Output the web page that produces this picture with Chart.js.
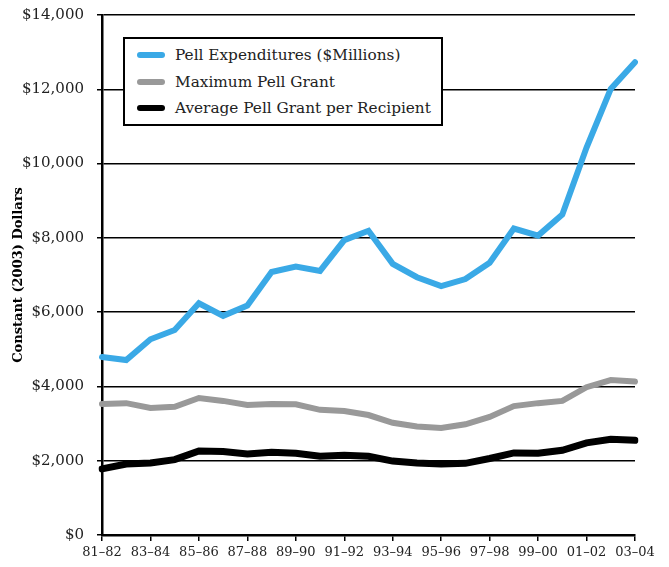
<!DOCTYPE html>
<html>
<head>
<meta charset="utf-8">
<title>Pell Grants</title>
<script src="https://cdn.jsdelivr.net/npm/chart.js@4.4.1/dist/chart.umd.min.js"></script>
<style>
    body { margin: 0; background: #fff; }
    #wrap { position: relative; width: 669px; height: 567px; }
    #pellLegend {
        position: absolute; left: 123px; top: 37px; width: 316px; height: 82px;
        border: 2px solid #000; background: #fff; padding-top: 3px;
        font-family: "DejaVu Serif", serif; font-size: 15.3px; color: #222;
    }
    .row { height: 26.5px; display: flex; align-items: center; }
    .swatch { width: 28px; height: 6px; border-radius: 3px; margin-left: 12px; margin-right: 10px; }
</style>
</head>
<body>
<div id="wrap">
    <canvas id="pellChart" width="669" height="567"></canvas>
    <div id="pellLegend"></div>
</div>
<script>
/**
 * Data
 **/
let years = ["81–82", "82–83", "83–84", "84–85", "85–86", "86–87", "87–88", "88–89", "89–90", "90–91",
    "91–92", "92–93", "93–94", "94–95", "95–96", "96–97", "97–98", "98–99", "99–00", "00–01",
    "01–02", "02–03", "03–04"];

let pellExpenditures = [4790, 4710, 5270, 5520, 6240, 5900, 6180, 7080, 7230, 7110,
    7940, 8190, 7300, 6940, 6700, 6890, 7330, 8250, 8060, 8630, 10430, 12010, 12730];

let maxPellGrant = [3530, 3550, 3420, 3450, 3690, 3610, 3500, 3530, 3520, 3370,
    3340, 3230, 3020, 2920, 2880, 2980, 3180, 3470, 3550, 3610, 3980, 4170, 4130];

let avgPellGrant = [1780, 1910, 1940, 2030, 2260, 2250, 2180, 2230, 2200, 2120,
    2150, 2120, 1990, 1940, 1910, 1930, 2060, 2210, 2200, 2280, 2480, 2580, 2550];

let seriesNames = ["Pell Expenditures ($Millions)", "Maximum Pell Grant", "Average Pell Grant per Recipient"];
let seriesColors = ["#3aa9e6", "#999999", "#000000"];

let yTicks = [0, 2000, 4000, 6000, 8000, 10000, 12000, 14000];

/**
 * Legend
 **/
let legendBox = document.getElementById("pellLegend");
for (let i = 0; i < seriesNames.length; i++) {
    let row = "<div class='row'><span class='swatch' style='background:" + seriesColors[i] + "'></span>" + seriesNames[i] + "</div>";
    legendBox.innerHTML += row;
}

/**
 * Chart
 **/
let seriesData = [pellExpenditures, maxPellGrant, avgPellGrant];
let datasets = [];
for (let i = 0; i < seriesData.length; i++) {
    datasets.push({
        label: seriesNames[i],
        data: seriesData[i],
        borderColor: seriesColors[i],
        borderWidth: i === 2 ? 7 : 6,
        borderCapStyle: "round",
        pointRadius: 0,
        tension: 0,
        fill: false
    });
}

new Chart(document.getElementById("pellChart"), {
    type: "line",
    data: {
        labels: years,
        datasets: datasets
    },
    options: {
        responsive: false,
        animation: false,
        layout: { padding: { top: 15, right: 34, left: 0, bottom: 0 } },
        plugins: {
            legend: { display: false },
            tooltip: { enabled: false }
        },
        scales: {
            x: {
                offset: false,
                border: { color: "#000", width: 2.5 },
                grid: { drawOnChartArea: false, color: "#000", lineWidth: 1.5, tickLength: 6 },
                ticks: {
                    autoSkip: false,
                    maxRotation: 0,
                    padding: 4,
                    color: "#222",
                    font: { family: "DejaVu Serif", size: 13 },
                    callback: function (value, index) {
                        return index % 2 === 0 ? years[index] : null;
                    }
                },
                afterFit: function (scale) { scale.height = 32; }
            },
            y: {
                min: yTicks[0],
                max: yTicks[yTicks.length - 1],
                border: { color: "#000", width: 2.5 },
                grid: { color: "#000", lineWidth: 1.5, tickLength: 5 },
                afterBuildTicks: function (scale) {
                    scale.ticks = yTicks.map(function (v) { return { value: v }; });
                },
                ticks: {
                    padding: 13,
                    color: "#222",
                    font: { family: "DejaVu Serif", size: 15 },
                    callback: function (value) {
                        return "$" + value.toLocaleString("en-US");
                    }
                },
                title: {
                    display: true,
                    text: "Constant (2003) Dollars",
                    color: "#000",
                    padding: { top: 11, bottom: 0 },
                    font: { family: "DejaVu Serif", size: 13, weight: "bold" }
                },
                afterFit: function (scale) {
                    scale.width = 102;
                    scale.paddingTop = 0;
                    scale.paddingBottom = 0;
                }
            }
        }
    }
});
</script>
</body>
</html>
